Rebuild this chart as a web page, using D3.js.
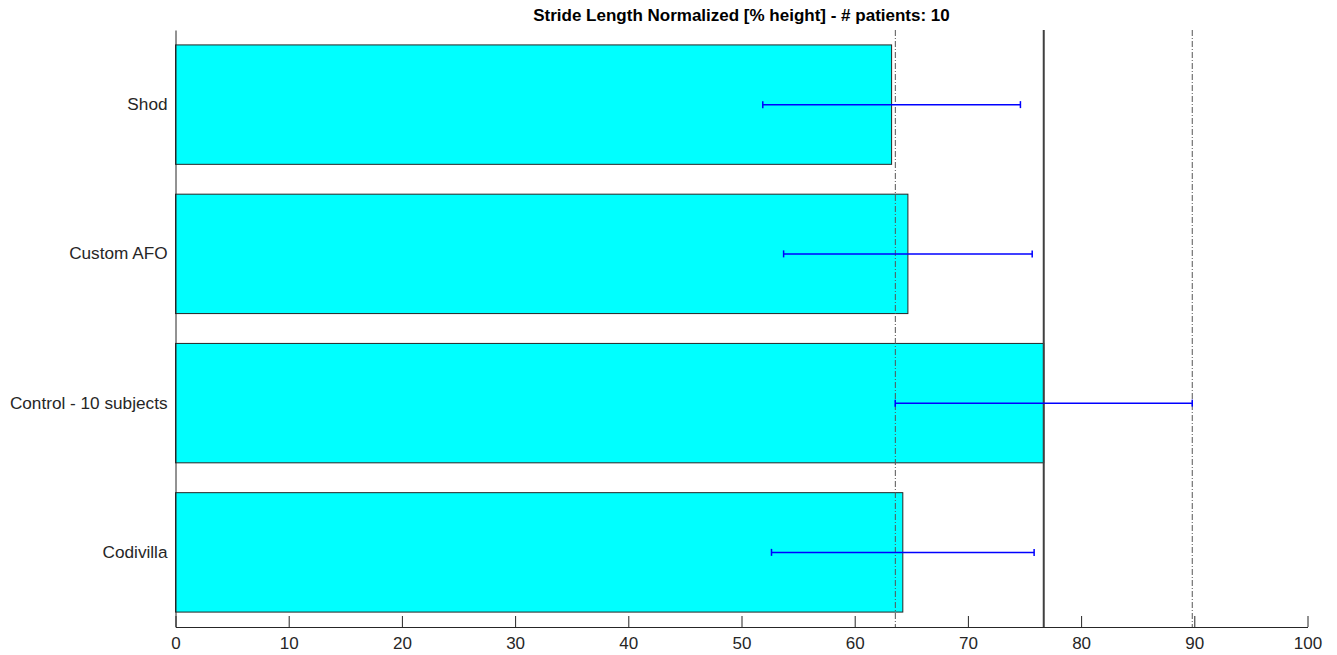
<!DOCTYPE html>
<html><head><meta charset="utf-8">
<script src="https://cdn.jsdelivr.net/npm/d3@7"></script>
<style>body{margin:0;background:#fff;} svg{display:block;font-family:"Liberation Sans",Arial,sans-serif;}</style>
</head><body>
<svg id="chart" width="1337" height="655"></svg>
<script>
const categories = ["Shod", "Custom AFO", "Control - 10 subjects", "Codivilla"];
const means = [63.26, 64.70, 76.70, 64.25];
const sds = [11.38, 10.98, 13.12, 11.60];
const refMean = 76.70;
const refLow = 63.59;
const refHigh = 89.82;
const xTicks = [0,10,20,30,40,50,60,70,80,90,100];
const title = "Stride Length Normalized [% height] - # patients: 10";

const svg = d3.select("#chart");
const L = 175.5, R = 1307.5, T = 30, B = 627;
const x = d3.scaleLinear().domain([0,100]).range([L,R]);
const y = d3.scaleBand().domain(categories).range([T,B]).paddingInner(0.2).paddingOuter(0.1);

const data = categories.map((c,i)=>({c, m:means[i], s:sds[i]}));

// bars
svg.append("g").selectAll("rect").data(data).join("rect")
  .attr("x", x(0)).attr("y", d=>y(d.c))
  .attr("width", d=>x(d.m)-x(0)).attr("height", y.bandwidth())
  .attr("fill","#00ffff").attr("stroke","#262626").attr("stroke-width",1);

// reference lines
const refG = svg.append("g");
[refLow, refHigh].forEach(v=>{
  refG.append("line").attr("x1",x(v)).attr("x2",x(v)).attr("y1",T).attr("y2",B)
    .attr("stroke","#555").attr("stroke-width",1).attr("stroke-dasharray","6,2,1,2");
});

// error bars
const eg = svg.append("g").attr("stroke","#0000ff").attr("stroke-width",1.5);
data.forEach(d=>{
  const cy = y(d.c)+y.bandwidth()/2;
  eg.append("line").attr("x1",x(d.m-d.s)).attr("x2",x(d.m+d.s)).attr("y1",cy).attr("y2",cy);
  [d.m-d.s, d.m+d.s].forEach(v=>{
    eg.append("line").attr("x1",x(v)).attr("x2",x(v)).attr("y1",cy-3.5).attr("y2",cy+3.5);
  });
});

refG.append("line").attr("x1",x(refMean)).attr("x2",x(refMean)).attr("y1",T).attr("y2",B)
  .attr("stroke","#404040").attr("stroke-width",2);

// x axis
const xa = svg.append("g").attr("transform",`translate(0,${B})`)
  .call(d3.axisBottom(x).tickValues(xTicks).tickSizeInner(-11).tickSizeOuter(0).tickPadding(9));
xa.select(".domain").attr("stroke","#262626");
xa.selectAll(".tick line").attr("stroke","#262626");
xa.selectAll("text").attr("fill","#262626").attr("font-size","17px").attr("dy","0.71em").attr("y",10);

// y axis
const ya = svg.append("g").attr("transform",`translate(${L},0)`)
  .call(d3.axisLeft(y).tickSize(0).tickPadding(8));
ya.select(".domain").attr("stroke","#262626");
ya.selectAll("text").attr("fill","#262626").attr("font-size","17.2px");

svg.append("text").attr("x",(L+R)/2).attr("y",21).attr("text-anchor","middle")
  .attr("font-weight","bold").attr("font-size","17px").attr("fill","#000").text(title);
</script>
</body></html>
